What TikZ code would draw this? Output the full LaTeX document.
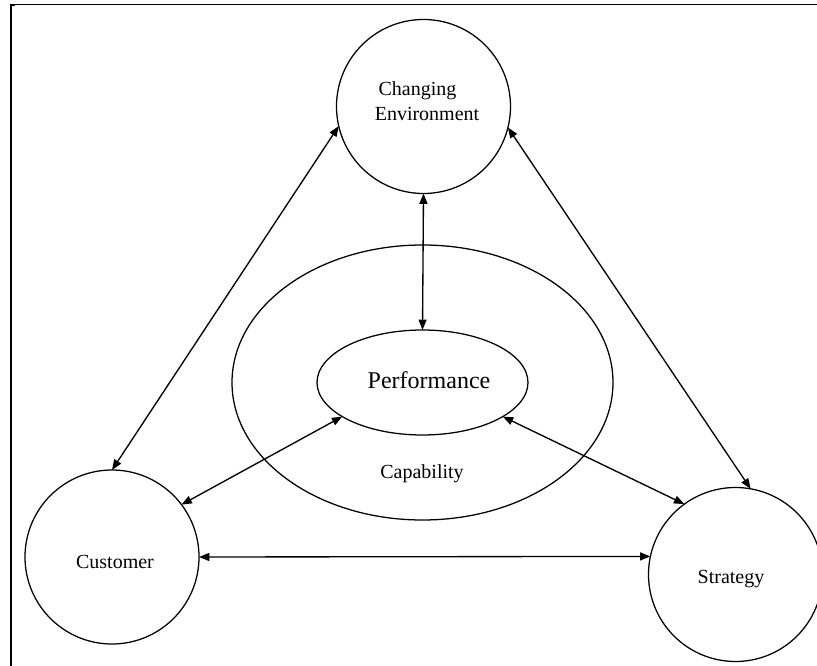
\documentclass[tikz,border=0pt]{standalone}
\usepackage{fontspec}
\setmainfont{Liberation Serif}
\usetikzlibrary{arrows.meta,shapes.geometric}
\begin{document}
\begin{tikzpicture}[x=0.75pt,y=-0.75pt,
  ring/.style={circle,draw,line width=0.95pt,inner sep=0pt,outer sep=0pt,minimum size=174*0.75pt},
  oval/.style={ellipse,draw,line width=0.95pt,inner sep=0pt,outer sep=0pt},
  lbl/.style={anchor=base,inner sep=0pt,font=\fontsize{15}{18}\selectfont},
  link/.style={line width=1pt,{Triangle[length=7.8pt,width=6pt]}-{Triangle[length=7.8pt,width=6pt]}}]
\useasboundingbox (0,0) rectangle (817,666);
% frame
\draw[line width=0.9pt] (11,666) -- (11,4.5) -- (817,4.5);
\fill (10.5,4) rectangle (15,6.5);
% shapes
\node[ring] (env) at (423.5,106.5) {};
\node[ring] (cust) at (112,557) {};
\node[ring] (strat) at (735.5,574.5) {};
\node[oval,minimum width=381*0.75pt,minimum height=275*0.75pt] (cap) at (422.5,382.5) {};
\node[oval,minimum width=211*0.75pt,minimum height=105*0.75pt] (perf) at (422.5,382.5) {};
% labels
\node[lbl] (t1) at (417.5,96) {Changing};
\node[lbl] (t2) at (427,121) {Environment};
\node[lbl,font=\fontsize{18}{21}\selectfont] (t3) at (429,388) {Performance};
\node[lbl] (t4) at (422,478) {Capability};
\node[lbl] (t5) at (115,568) {Customer};
\node[lbl] (t6) at (731,583) {Strategy};
% connectors
\draw[link] (env.193.6) -- (cust.90);
\draw[link] (env.-14) -- (strat.80.7);
\draw[link] (env.south) -- (perf.north);
\draw[link] (cust.37.6) -- (perf.203.4);
\draw[link] (strat.126.4) -- (perf.-23.1);
\draw[link] (cust.0) -- (strat.168);
\end{tikzpicture}
\end{document}
